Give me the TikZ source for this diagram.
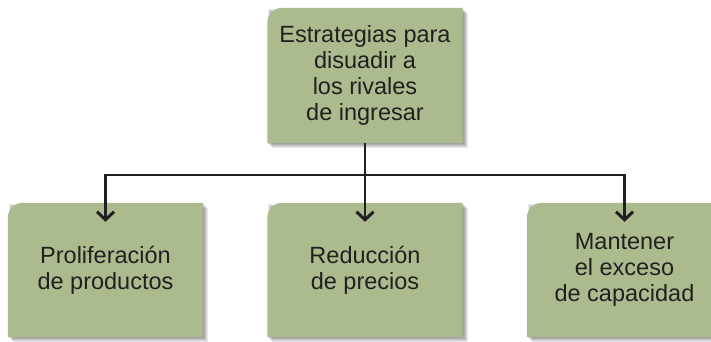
\documentclass[tikz,border=0pt]{standalone}
\usepackage{fontspec}
\setmainfont{Liberation Sans}
\usetikzlibrary{arrows.meta,backgrounds,calc}
\definecolor{boxgreen}{HTML}{ABBB8E}
\definecolor{ink}{HTML}{231F20}
\newcommand{\greenfill}[1]{%
  \begin{pgfonlayer}{background}
    \foreach \s in {1,2,3,4,5}{%
      \fill[black,opacity=0.09] ($(#1.south west)+(\s,-\s)$) rectangle ($(#1.north east)+(\s,-\s)$);}
    \fill[boxgreen] (#1.south west) -- ($(#1.north west)+(0,-15)$)
      arc[start angle=180,end angle=90,radius=15] -- (#1.north east) -- (#1.south east) -- cycle;
  \end{pgfonlayer}}
\begin{document}
\begin{tikzpicture}[x=1pt,y=1pt,
  box/.style={minimum width=195pt, minimum height=134pt, inner sep=0pt, align=center,
    text=ink, font=\fontsize{23.5}{26}\selectfont},
  arr/.style={draw=ink, line width=2.5pt, -{Straight Barb[length=8pt,width=17pt,line width=3pt]}}]
\useasboundingbox (0,0) rectangle (711,-341);
\clip (0,0) rectangle (711,-341);
\node[box, minimum height=135pt] (t) at (365,-75.5) {Estrategias para\\disuadir a\\los rivales\\de ingresar};
\node[box] (l) at (105.5,-270) {Proliferación\\de productos};
\node[box] (m) at (365,-270) {Reducción\\de precios};
\node[box] (r) at (624.5,-270) {Mantener\\el exceso\\de capacidad};
\greenfill{t}
\greenfill{l}
\greenfill{m}
\greenfill{r}
\coordinate (j) at ($(t.south)+(0,-32)$);
\draw[arr] (t.south) -- ($(m.north)+(0,-19)$);
\draw[arr] (j) -| ($(l.north)+(0,-19)$);
\draw[arr] (j) -| ($(r.north)+(0,-19)$);
\end{tikzpicture}
\end{document}
